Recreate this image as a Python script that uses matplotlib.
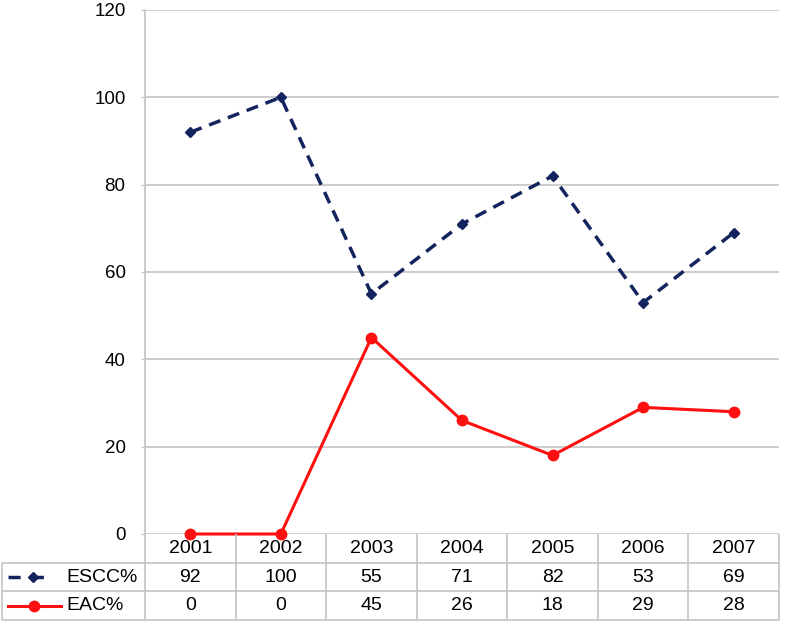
import matplotlib.pyplot as plt
import numpy as np

plt.rcParams['font.family'] = ['Liberation Sans', 'DejaVu Sans']

years = ['2001', '2002', '2003', '2004', '2005', '2006', '2007']
escc = [92, 100, 55, 71, 82, 53, 69]
eac = [0, 0, 45, 26, 18, 29, 28]
labels = ['ESCC%', 'EAC%']
yticks = [0, 20, 40, 60, 80, 100, 120]

navy = '#13245e'
red = '#ff1010'
grid = '#c4c4c4'
fs = 14

W, H = 788, 624
fig = plt.figure(figsize=(W / 100, H / 100), dpi=100)

ax = fig.add_axes([145 / W, (H - 534) / H, 634 / W, 524 / H])
x = np.arange(len(years))
ax.plot(x, escc, color=navy, lw=2.5, ls=(0, (3.5, 2.3)), marker='D', ms=5.5,
        clip_on=False, zorder=3)
ax.plot(x, eac, color=red, lw=2.2, marker='o', ms=7.5, clip_on=False, zorder=3)
ax.set_xlim(-0.5, len(years) - 0.5)
ax.set_ylim(0, 120)
ax.set_yticks(yticks)
ax.set_yticklabels([str(v) for v in yticks], fontsize=13.5)
ax.set_xticks([])
ax.yaxis.grid(True, color=grid, lw=1.2)
ax.set_axisbelow(True)
ax.tick_params(axis='y', length=3, color=grid, pad=11)
for s in ['top', 'right', 'bottom']:
    ax.spines[s].set_visible(False)
ax.spines['left'].set_color(grid)
ax.spines['left'].set_linewidth(1.2)

# data table underneath, sharing the column positions of the plot
tax = fig.add_axes([2 / W, (H - 620) / H, 777 / W, 86 / H])
colw = 634 / len(years)
xl = -0.5 - 143 / colw
xr = len(years) - 0.5
tax.set_xlim(xl, xr)
tax.set_ylim(3, 0)
tax.axis('off')

kw = dict(color=grid, lw=1.2, clip_on=False)
tax.hlines([1, 2, 3], xl, xr, **kw)
tax.vlines(np.arange(len(years) + 1) - 0.5, 0, 3, **kw)
tax.vlines([xl], 1, 3, **kw)

for i, yr in enumerate(years):
    tax.text(i, 0.5, yr, ha='center', va='center', fontsize=fs)
    tax.text(i, 1.5, str(escc[i]), ha='center', va='center', fontsize=fs)
    tax.text(i, 2.5, str(eac[i]), ha='center', va='center', fontsize=fs)

def px(p):
    return xl + (p - 2) / colw

tax.text(px(66), 1.5, labels[0], ha='left', va='center', fontsize=fs)
tax.text(px(66), 2.5, labels[1], ha='left', va='center', fontsize=fs)
tax.plot([px(8), px(51)], [1.5, 1.5], color=navy, lw=2.5, ls=(0, (3.5, 3.2)),
         clip_on=False)
tax.plot([px(33)], [1.5], color=navy, marker='D', ms=5.5, clip_on=False)
tax.plot([px(8), px(61)], [2.5, 2.5], color=red, lw=2.2, clip_on=False)
tax.plot([px(34)], [2.5], color=red, marker='o', ms=7.5, clip_on=False)

fig.savefig('out.png', dpi=100)
